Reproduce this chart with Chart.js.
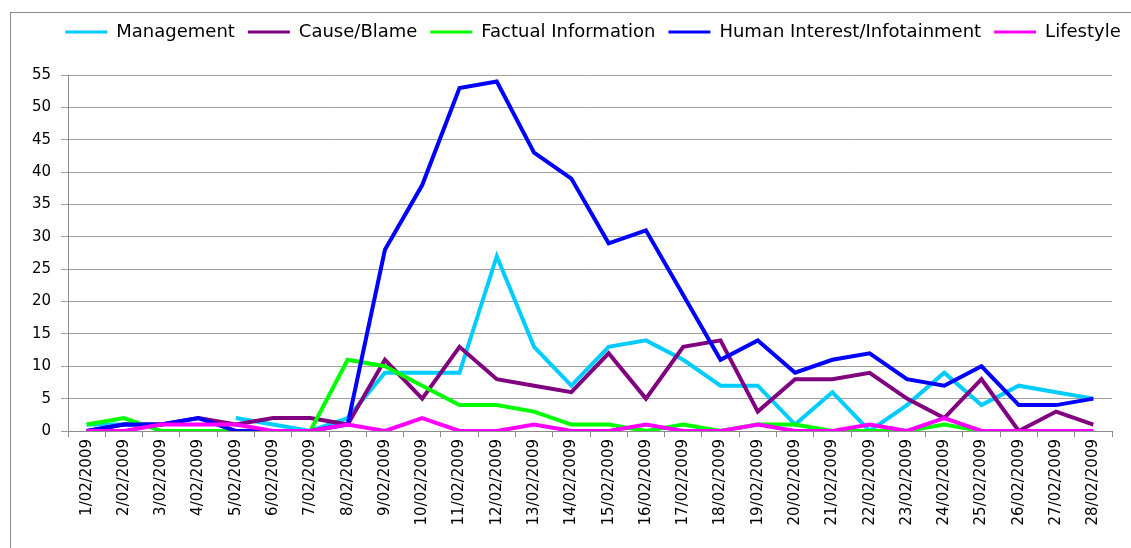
<!DOCTYPE html>
<html>
<head>
<meta charset="utf-8">
<script src="https://cdn.jsdelivr.net/npm/chart.js@4.4.1/dist/chart.umd.min.js"></script>
<style>
html,body{margin:0;padding:0;background:#fff;}
#wrap{width:1131px;height:548px;position:relative;}
</style>
</head>
<body>
<div id="wrap"><canvas id="c" width="1131" height="548"></canvas></div>
<script>
const categories = ['1/02/2009','2/02/2009','3/02/2009','4/02/2009','5/02/2009','6/02/2009','7/02/2009','8/02/2009','9/02/2009','10/02/2009','11/02/2009','12/02/2009','13/02/2009','14/02/2009','15/02/2009','16/02/2009','17/02/2009','18/02/2009','19/02/2009','20/02/2009','21/02/2009','22/02/2009','23/02/2009','24/02/2009','25/02/2009','26/02/2009','27/02/2009','28/02/2009'];
const management = [1,1,1,null,2,1,0,2,9,9,9,27,13,7,13,14,11,7,7,1,6,0,4,9,4,7,6,5];
const causeBlame = [0,1,1,2,1,2,2,1,11,5,13,8,7,6,12,5,13,14,3,8,8,9,5,2,8,0,3,1];
const factualInfo = [1,2,0,0,0,0,0,11,10,7,4,4,3,1,1,0,1,0,1,1,0,0,0,1,0,0,0,0];
const humanInterest = [0,1,1,2,0,0,0,1,28,38,53,54,43,39,29,31,21,11,14,9,11,12,8,7,10,4,4,5];
const lifestyle = [0,0,1,1,1,0,0,1,0,2,0,0,1,0,0,1,0,0,1,0,0,1,0,2,0,0,0,0];
const yTicks = [0,5,10,15,20,25,30,35,40,45,50,55];

const seriesNames = ['Management','Cause/Blame','Factual Information','Human Interest/Infotainment','Lifestyle'];
const seriesData = [management, causeBlame, factualInfo, humanInterest, lifestyle];
const seriesColors = ['#00CCFF','#800080','#00FF00','#0000FF','#FF00FF'];

const FONT = 'DejaVu Sans';

const borderPlugin = {
  id: 'outerBorder',
  beforeDraw(chart) {
    const ctx = chart.ctx;
    ctx.save();
    ctx.fillStyle = '#fff';
    ctx.fillRect(0, 0, chart.width, chart.height);
    ctx.strokeStyle = '#8c8c8c';
    ctx.lineWidth = 1;
    ctx.strokeRect(10.5, 12.5, 1200, 700);
    ctx.restore();
  }
};

const legendSpacer = {
  id: 'legendSpacer',
  beforeLayout(chart) {
    const l = chart.legend;
    if (l && !l._patched) {
      const orig = l.fit.bind(l);
      l.fit = function () { orig(); this.height += 24; };
      l._patched = true;
    }
  },
  afterLayout(chart) {
    const l = chart.legend;
    if (l) { l.left += 37; l.right += 37; }
  }
};

new Chart(document.getElementById('c'), {
  type: 'line',
  data: {
    labels: categories,
    datasets: seriesData.map((d, i) => ({
      label: seriesNames[i],
      data: d,
      borderColor: seriesColors[i],
      backgroundColor: seriesColors[i],
      borderWidth: 4,
      pointRadius: 0,
      pointHoverRadius: 0,
      tension: 0,
      spanGaps: false,
      fill: false,
      order: seriesNames.length - i
    }))
  },
  options: {
    responsive: false,
    animation: false,
    devicePixelRatio: 1,
    layout: { padding: { left: 0, right: 19, top: 10, bottom: 0 } },
    plugins: {
      tooltip: { enabled: false },
      legend: {
        position: 'top',
        labels: {
          font: { family: FONT, size: 18 },
          color: '#000',
          boxWidth: 42,
          boxHeight: 3,
          padding: 13,
          sort: (a, b) => a.datasetIndex - b.datasetIndex,
          generateLabels(chart) {
            const items = Chart.defaults.plugins.legend.labels.generateLabels(chart);
            items.forEach(it => { it.lineWidth = 0; it.strokeStyle = it.fillStyle; });
            return items;
          }
        }
      }
    },
    scales: {
      x: {
        type: 'category',
        offset: true,
        afterFit(s) { s.height = 117; },
        grid: { display: true, offset: true, drawOnChartArea: false, drawTicks: true, tickLength: 6, color: '#8c8c8c' },
        border: { display: true, color: '#8c8c8c' },
        ticks: {
          autoSkip: false,
          minRotation: 90,
          maxRotation: 90,
          padding: 2,
          color: '#000',
          font: { family: FONT, size: 15 }
        }
      },
      y: {
        min: 0,
        max: 55,
        afterFit(s) { s.width = 68; },
        afterBuildTicks(s) { s.ticks = yTicks.map(v => ({ value: v })); },
        grid: { color: '#a0a0a0', tickLength: 7, drawTicks: true },
        border: { display: true, color: '#8c8c8c' },
        ticks: {
          stepSize: 5,
          padding: 10,
          color: '#000',
          font: { family: FONT, size: 15 }
        }
      }
    }
  },
  plugins: [borderPlugin, legendSpacer]
});
</script>
</body>
</html>
